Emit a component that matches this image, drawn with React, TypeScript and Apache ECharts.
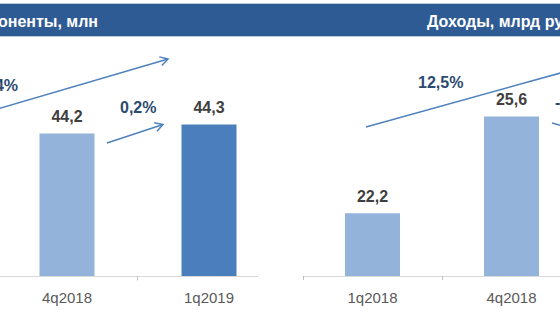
import React, { useEffect, useRef } from "react";
import * as echarts from "echarts";

const leftCategories = ["4q2018", "1q2019"];
const leftValues = [44.2, 44.3];
const rightCategories = ["1q2018", "4q2018", "1q2019"];
const rightValues = [22.2, 25.6, 25.0];
const leftTitle = "Абоненты, млн";
const rightTitle = "Доходы, млрд руб.";
const growthLabels = ["0,4%", "0,2%", "12,5%", "-2,3%"];

const LIGHT = "#93B3DA";
const DARK = "#4A7EBC";
const ARROW = "#4F81BD";
const FONT = "Liberation Sans";
const OFF = 160; // chart canvas extends beyond the visible 560px window
const W = 920;
const H = 315;

function fmt(v: number) {
  return v.toFixed(1).replace(".", ",");
}

function arrow(x1: number, y1: number, x2: number, y2: number, head = true) {
  x1 += OFF;
  x2 += OFF;
  const els: any[] = [
    {
      type: "line",
      shape: { x1, y1, x2, y2 },
      style: { stroke: ARROW, lineWidth: 1.5 },
      silent: true,
    },
  ];
  if (head) {
    const a = Math.atan2(y2 - y1, x2 - x1);
    const L = 9;
    const d = Math.PI / 6;
    els.push({
      type: "polyline",
      shape: {
        points: [
          [x2 - L * Math.cos(a - d), y2 - L * Math.sin(a - d)],
          [x2, y2],
          [x2 - L * Math.cos(a + d), y2 - L * Math.sin(a + d)],
        ],
      },
      style: { stroke: ARROW, lineWidth: 1.5, fill: "none" },
      silent: true,
    });
  }
  return els;
}

function pctText(text: string, x: number, y: number, align: string = "left") {
  return {
    type: "text",
    x: x + OFF,
    y,
    style: {
      text,
      fill: "#2C4A70",
      font: `bold 16px "${FONT}"`,
      textAlign: align,
      textVerticalAlign: "middle",
    },
    silent: true,
  };
}

export default function App() {
  const ref = useRef<HTMLDivElement>(null);
  useEffect(() => {
    if (!ref.current) return;
    const chart = echarts.init(ref.current, null, { renderer: "svg" });
    const labelStyle = {
      show: true,
      position: "top",
      distance: 9,
      color: "#404040",
      fontWeight: "bold",
      fontSize: 16,
      fontFamily: FONT,
      formatter: (p: any) => fmt(p.value),
    };
    const catLabel = {
      color: "#595959",
      fontSize: 15,
      fontFamily: FONT,
      margin: 14,
    };
    chart.setOption({
      animation: false,
      grid: [
        { left: OFF - 4, right: W - (OFF + 280), top: 48, bottom: 39 },
        { left: OFF + 303, right: W - (OFF + 720), top: 48, bottom: 39 },
      ],
      xAxis: [
        {
          type: "category",
          gridIndex: 0,
          data: leftCategories,
          axisLine: { show: false },
          axisTick: { show: false },
          axisLabel: catLabel,
        },
        {
          type: "category",
          gridIndex: 1,
          data: rightCategories,
          axisLine: { show: true, lineStyle: { color: "#D9D9D9", width: 1 } },
          axisTick: { show: true, length: 4, lineStyle: { color: "#BFBFBF" } },
          axisLabel: catLabel,
        },
      ],
      yAxis: [
        { type: "value", gridIndex: 0, min: 42.62, max: 45.15, show: false },
        { type: "value", gridIndex: 1, min: 20, max: 28, show: false },
      ],
      series: [
        {
          type: "bar",
          xAxisIndex: 0,
          yAxisIndex: 0,
          barWidth: 55,
          data: leftValues.map((v, i) => ({
            value: v,
            itemStyle: { color: i === leftValues.length - 1 ? DARK : LIGHT },
          })),
          label: labelStyle,
        },
        {
          type: "bar",
          xAxisIndex: 1,
          yAxisIndex: 1,
          barWidth: 55,
          data: rightValues.map((v, i) => ({
            value: v,
            itemStyle: { color: i === rightValues.length - 1 ? DARK : LIGHT },
          })),
          label: labelStyle,
        },
      ],
      graphic: [
        { type: "rect", shape: { x: 0, y: 4, width: W, height: 32 }, style: { fill: "#2F5B94" }, silent: true },
        { type: "line", shape: { x1: 0, y1: 3.5, x2: W, y2: 3.5 }, style: { stroke: "#B9C9DE", lineWidth: 1 }, silent: true },
        { type: "line", shape: { x1: 0, y1: 36.5, x2: W, y2: 36.5 }, style: { stroke: "#B9C9DE", lineWidth: 1 }, silent: true },
        {
          type: "text",
          x: OFF + 98,
          y: 21,
          style: { text: leftTitle, fill: "#FFFFFF", font: `bold 16px "${FONT}"`, textAlign: "right", textVerticalAlign: "middle" },
          silent: true,
        },
        {
          type: "text",
          x: OFF + 427,
          y: 21,
          style: { text: rightTitle, fill: "#FFFFFF", font: `bold 16px "${FONT}"`, textAlign: "left", textVerticalAlign: "middle" },
          silent: true,
        },
        { type: "line", shape: { x1: OFF - 100, y1: 276.5, x2: OFF + 258, y2: 276.5 }, style: { stroke: "#D9D9D9", lineWidth: 1 }, silent: true },
        { type: "line", shape: { x1: OFF + 137.5, y1: 276.5, x2: OFF + 137.5, y2: 280.5 }, style: { stroke: "#BFBFBF", lineWidth: 1 }, silent: true },
        ...arrow(-40, 120, 168, 59),
        ...arrow(107, 143, 163, 124.5),
        ...arrow(366, 127, 600, 62, false),
        ...arrow(552, 123, 612, 140, false),
        pctText(growthLabels[0], 18, 85, "right"),
        pctText(growthLabels[1], 120, 107),
        pctText(growthLabels[2], 418, 82),
        pctText(growthLabels[3], 555, 102),
      ],
    });
    return () => chart.dispose();
  }, []);
  return (
    <div
      style={{ position: "fixed", left: 0, top: 0, width: 560, height: H, overflow: "hidden", background: "#FFFFFF" }}
    >
      <div
        ref={ref}
        style={{ position: "absolute", left: -OFF, top: 0, width: W, height: H }}
      />
    </div>
  );
}
